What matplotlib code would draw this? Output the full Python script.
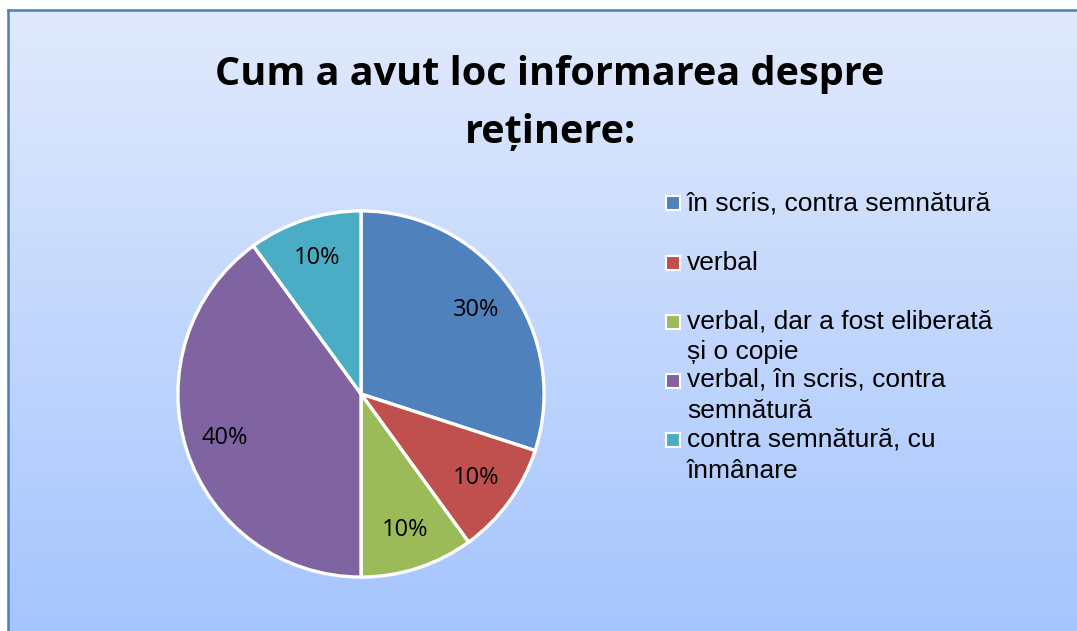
import matplotlib
matplotlib.use("Agg")
import matplotlib.pyplot as plt
import numpy as np
from matplotlib.colors import LinearSegmentedColormap
from matplotlib.patches import Rectangle

W, H = 1077, 631

title_lines = ["Cum a avut loc informarea despre", "reținere:"]
labels = [
    "în scris, contra semnătură",
    "verbal",
    "verbal, dar a fost eliberată\nși o copie",
    "verbal, în scris, contra\nsemnătură",
    "contra semnătură, cu\nînmânare",
]
values = [30, 10, 10, 40, 10]
colors = ["#4F81BD", "#C0504D", "#9BBB59", "#8064A2", "#4BACC6"]

fig = plt.figure(figsize=(W / 100, H / 100), dpi=100)
fig.patch.set_facecolor("white")


def px(x, y, w, h):
    # pixel box (top-left origin) -> figure fraction rect
    return [x / W, 1 - (y + h) / H, w / W, h / H]


def fy(y):
    return 1 - y / H


# gradient chart area with frame
bg = fig.add_axes(px(8, 10, W - 8, H - 10))
grad = LinearSegmentedColormap.from_list("bg", ["#E1EAFC", "#A5C5FE"])
bg.imshow(np.linspace(0, 1, 256).reshape(-1, 1), aspect="auto", cmap=grad,
          extent=[0, 1, 0, 1])
bg.set_xlim(0, 1)
bg.set_ylim(0, 1)
bg.set_xticks([])
bg.set_yticks([])
for side in ["right", "bottom"]:
    bg.spines[side].set_visible(False)
for side in ["left", "top"]:
    bg.spines[side].set_color("#4A7EBB")
    bg.spines[side].set_linewidth(1.8)

for line, base in zip(title_lines, [85, 143]):
    fig.text(550 / W, fy(base), line, ha="center", va="baseline",
             fontsize=28.5, fontweight="bold", family="Open Sans")

# pie
cx, cy, r = 361, 394, 184
ax = fig.add_axes(px(cx - r, cy - r, 2 * r, 2 * r))
ax.pie(values, colors=colors, startangle=90, counterclock=False,
       autopct="%1.0f%%", pctdistance=0.78, radius=1.0,
       wedgeprops={"edgecolor": "white", "linewidth": 2.4},
       textprops={"fontsize": 17, "family": "Open Sans", "color": "black"})
ax.set_xlim(-1.005, 1.005)
ax.set_ylim(-1.005, 1.005)
ax.set_aspect("equal")
ax.axis("off")

# legend, Excel style: equal slots, wrapped text
slot_y = [203, 263, 322, 381, 440]
base_y = [210, 270, 328, 387, 447]
for lab, col, y, b in zip(labels, colors, slot_y, base_y):
    fig.patches.append(Rectangle(((673 - 7) / W, fy(y + 7)), 14 / W, 14 / H,
                                 transform=fig.transFigure, facecolor=col,
                                 edgecolor="white", linewidth=1.5))
    for i, part in enumerate(lab.split("\n")):
        fig.text(687 / W, fy(b + 31 * i), part, ha="left", va="baseline",
                 fontsize=19, family="Liberation Sans")

fig.savefig("out.png", dpi=100)
